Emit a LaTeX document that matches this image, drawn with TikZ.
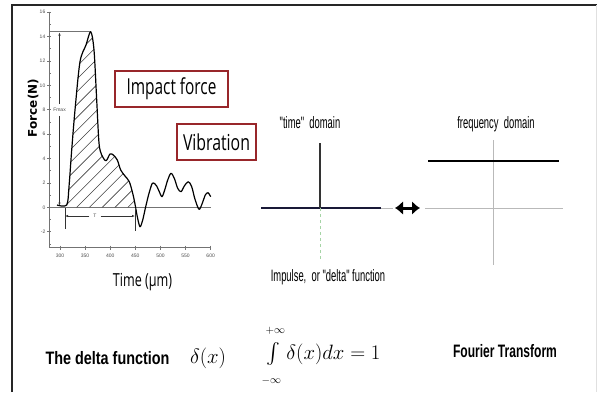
\documentclass[tikz,border=0pt]{standalone}
\usepackage{amsmath}
\usepackage{fontspec}
\usepackage{graphicx}
\usetikzlibrary{arrows.meta}

\newfontfamily\opensans{Open Sans}
\newfontfamily\arialish{Liberation Sans}
\newfontfamily\dejavu{DejaVu Sans}
\newcommand{\narrowed}[2]{\scalebox{#1}[1]{#2}}

\definecolor{boxred}{RGB}{152,38,42}
\definecolor{axisgray}{RGB}{115,115,115}
\definecolor{lightaxis}{RGB}{185,185,185}
\definecolor{navyline}{RGB}{25,25,55}
\definecolor{dashgreen}{RGB}{165,212,165}

\begin{document}
\begin{tikzpicture}[x=1pt,y=-1pt,
        redbox/.style={draw=boxred, line width=2.2pt, inner sep=0pt},
        ticklbl/.style={font=\arialish\fontsize{5}{6}\selectfont, text=black!70, inner sep=0.5pt},
        smalllbl/.style={font=\arialish\fontsize{16.5}{18}\selectfont, inner sep=1pt},
        boldlbl/.style={font=\arialish\bfseries\fontsize{18}{20}\selectfont, inner sep=1pt},
        axisline/.style={axisgray, line width=0.8pt},
        curve/.style={black, line width=1.2pt, line join=round},
        hatchline/.style={black!75, line width=0.6pt},
        dimline/.style={black!80, line width=0.6pt, -{Latex[length=3pt,width=2.4pt]}},
        fatarrow/.style={line width=3pt, {Latex[length=8pt,width=14pt]}-{Latex[length=8pt,width=14pt]}}]

        \useasboundingbox (0,0) rectangle (597,392);

        % frame
        \draw[black!85, line width=1.2pt] (12,392) -- (12,5) -- (597,5);
        \draw[black!12, line width=1pt] (596,5) -- (596,392);

        % force plot
        \draw[axisline] (49,11.7) -- (49,247.7) -- (211,247.7);
        \foreach \f in {-2,0,...,16}
            \draw[axisline] (47,{207.3-12.2*\f}) -- (51,{207.3-12.2*\f});
        \foreach \f in {-3,-1,...,15}
            \draw[axisline, line width=0.5pt] (49,{207.3-12.2*\f}) -- (51,{207.3-12.2*\f});
        \foreach \t in {300,350,...,600}
            \draw[axisline] ({60+0.5022*(\t-300)},245.7) -- ({60+0.5022*(\t-300)},249.7);
        \foreach \f in {-2,0,...,16}
            \node[ticklbl, anchor=east] (yl\f) at (46,{207.3-12.2*\f}) {\f};
        \foreach \t in {300,350,...,600}
            \node[ticklbl] (xl\t) at ({60+0.5022*(\t-300)},256) {\t};

        \draw[axisgray, line width=1.6pt] (49,207.3) -- (211,207.3);
        \draw[axisgray, line width=1pt] (49,31.7) -- (90.7,31.7);

        \begin{scope}
            \clip plot[smooth] coordinates {(66.7,205) (69,186.7) (71.7,150) (75,110) (80,61.7)
                (86,45) (90.7,31.7) (94,50) (96.7,100) (99,143) (101.7,155) (106,160.7)
                (110,154) (113.3,155) (117.3,160) (120.7,170) (125,176) (129.3,181.7)
                (132.7,193.3) (135,204)} -- (136,207.3) -- (66.7,207.3) -- cycle;
            \foreach \k in {-14,...,9}
                \draw[hatchline] ({33.6+12.8*\k},212) -- ++(190,-190);
        \end{scope}

        \draw[curve] plot[smooth] coordinates {(57,205) (66.7,205) (69,186.7) (71.7,150)
            (75,110) (80,61.7) (86,45) (90.7,31.7) (94,50) (96.7,100) (99,143) (101.7,155)
            (106,160.7) (110,154) (113.3,155) (117.3,160) (120.7,170) (125,176) (129.3,181.7)
            (132.7,193.3) (135,204) (137.3,216.7) (140,226.7) (142.7,220) (145.7,206.7)
            (149,193.3) (152.3,183.3) (155,184) (156.7,186) (159.3,191.7) (162,196.7)
            (164.7,190) (167.7,180) (171,173.3) (174.3,178.3) (177.7,188.3) (181,191.7)
            (184.3,186) (188.3,181.7) (191.7,186.7) (195,199.3) (199,209.3) (202,204)
            (205.3,195) (208,192.7) (210.7,196.7)};

        \coordinate (ftop) at (59.5,32.5);
        \coordinate (fbot) at (59.5,205.5);
        \node[ticklbl, inner sep=4pt] (fmax) at (59.5,110) {Fmax};
        \draw[dimline] (fmax) -- (ftop);
        \draw[dimline] (fmax) -- (fbot);

        \coordinate (tleft) at (65,216);
        \coordinate (tright) at (135,216);
        \draw[black!80, line width=0.6pt] (65,208) -- (65,229);
        \draw[black!80, line width=0.6pt] (135,208) -- (135,231);
        \node[ticklbl, inner sep=4pt] (tlbl) at (95,216) {T};
        \draw[dimline] (tlbl) -- (tleft);
        \draw[dimline] (tlbl) -- (tright);

        \node[font=\dejavu\bfseries\fontsize{12}{14}\selectfont, rotate=90] (forcelbl) at (33,108) {Force(N)};
        \node[font=\opensans\fontsize{18}{20}\selectfont] (timelbl) at (142.5,282) {\narrowed{0.7}{Time (μm)}};

        \node[redbox, minimum width=113pt, minimum height=36pt, font=\opensans\fontsize{22}{24}\selectfont]
            (impact) at (171.5,89) {\narrowed{0.7}{Impact force}};
        \node[redbox, minimum width=79pt, minimum height=36pt, font=\opensans\fontsize{22}{24}\selectfont]
            (vibration) at (216.5,142) {\narrowed{0.72}{Vibration}};

        % time domain
        \draw[lightaxis, line width=0.8pt] (261,208) -- (393,208);
        \draw[navyline, line width=2.6pt] (261,208) -- (381,208);
        \draw[black!80, line width=1.1pt] (320,143) -- (320,208);
        \draw[dashgreen, line width=0.9pt, dashed] (320,208) -- (320,260);
        \node[smalllbl] (timedom) at (310,123) {\narrowed{0.57}{"time"\ \ domain}};
        \node[smalllbl] (impulse) at (328,277) {\narrowed{0.57}{Impulse,\ \ or "delta" function}};

        \coordinate (dleft) at (395,208);
        \coordinate (dright) at (420,208);
        \draw[fatarrow] (dleft) -- (dright);

        % frequency domain
        \draw[lightaxis, line width=0.8pt] (425,208) -- (563,208);
        \draw[lightaxis, line width=0.8pt] (493,140) -- (493,265);
        \draw[black, line width=2.8pt] (428,161) -- (559,161);
        \node[smalllbl] (freqdom) at (496,124) {\narrowed{0.57}{frequency\ \ domain}};

        % bottom line
        \node[boldlbl] (deltafn) at (107.5,358) {\narrowed{0.8}{The delta function}};
        \node[font=\fontsize{21}{24}\selectfont] (deltax) at (208,358) {$\delta(x)$};
        \node[font=\fontsize{21}{24}\selectfont, anchor=base west] (integral) at (260,359)
            {$\int\limits_{\rule{0pt}{15pt}\scriptscriptstyle-\infty}^{\scriptscriptstyle+\infty\rule[-6pt]{0pt}{6pt}}\delta(x)dx=1$};
        \node[boldlbl] (fourier) at (505,351) {\narrowed{0.67}{Fourier Transform}};
\end{tikzpicture}
\end{document}
